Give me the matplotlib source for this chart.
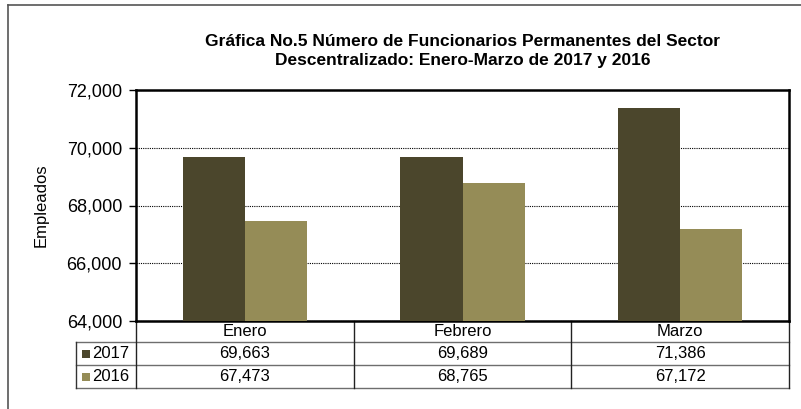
import matplotlib
matplotlib.use('Agg')
import matplotlib.pyplot as plt
from matplotlib.lines import Line2D
from matplotlib.patches import Rectangle
import matplotlib.transforms as mtransforms

plt.rcParams['font.family'] = ['Liberation Sans', 'DejaVu Sans']

# Data
months = ['Enero', 'Febrero', 'Marzo']
series_names = ['2017', '2016']
values_2017 = [69663, 69689, 71386]
values_2016 = [67473, 68765, 67172]
colors = ['#4b462c', '#958c57']
y_ticks = [64000, 66000, 68000, 70000, 72000]

fig = plt.figure(figsize=(8.01, 4.09), dpi=100)
ax = fig.add_axes([136 / 801, 1 - 321 / 409, 653 / 801, 231 / 409])

x = list(range(len(months)))
w = 0.285
ax.bar([i - w / 2 for i in x], values_2017, width=w, color=colors[0], zorder=3)
ax.bar([i + w / 2 for i in x], values_2016, width=w, color=colors[1], zorder=3)

ax.set_xlim(-0.5, len(months) - 0.5)
ax.set_ylim(y_ticks[0], y_ticks[-1])
ax.set_yticks(y_ticks)
ax.set_yticklabels([f'{v:,}' for v in y_ticks], fontsize=13)
ax.tick_params(axis='y', length=5, width=1, pad=5, direction='out')
ax.set_xticks([])
ax.yaxis.grid(True, linestyle=(0, (1, 1)), color='black', linewidth=0.8)
ax.set_axisbelow(True)
for s in ax.spines.values():
    s.set_linewidth(1.8)
    s.set_color('black')

ax.set_ylabel('Empleados', fontsize=12, labelpad=13)

ax.set_title('Gráfica No.5 Número de Funcionarios Permanentes del Sector\n'
             'Descentralizado: Enero-Marzo de 2017 y 2016',
             fontsize=12.5, fontweight='bold', pad=18, linespacing=1.3)

# Data table under the plot (x in data units, y in axes fraction)
trans = mtransforms.blended_transform_factory(ax.transData, ax.transAxes)
ph = 231.0
r0 = 0.0
r1 = -21 / ph
r2 = -44 / ph
r3 = -67 / ph
xl = -0.5 - 60 / (653 / 3)
xr = len(months) - 0.5
line_kw = dict(transform=trans, clip_on=False, linewidth=1.0)

for yy in [r1, r2, r3]:
    ax.add_line(Line2D([xl, xr], [yy, yy], color='#6e6e6e', **line_kw))
ax.add_line(Line2D([xl, xl], [r1, r3], color='#333333', **line_kw))
for i in range(len(months) + 1):
    xv = i - 0.5
    ax.add_line(Line2D([xv, xv], [r0, r3], color='#222222', **line_kw))

fs_tab = 12
for i, m in enumerate(months):
    ax.text(i, (r0 + r1) / 2, m, transform=trans, ha='center', va='center', fontsize=fs_tab)
    ax.text(i, (r1 + r2) / 2, f'{values_2017[i]:,}', transform=trans,
            ha='center', va='center', fontsize=fs_tab)
    ax.text(i, (r2 + r3) / 2, f'{values_2016[i]:,}', transform=trans,
            ha='center', va='center', fontsize=fs_tab)

px = 1 / (653 / 3)
for k, (name, c) in enumerate(zip(series_names, colors)):
    yc = (r1 + r2) / 2 if k == 0 else (r2 + r3) / 2
    ax.add_patch(Rectangle((xl + 6 * px, yc - 4 / ph), 8 * px, 8 / ph, transform=trans,
                           clip_on=False, facecolor=c, edgecolor='none'))
    ax.text(xl + 16 * px, yc, name, transform=trans, ha='left', va='center', fontsize=fs_tab)

# outer chart-area frame (top and left visible)
fig.add_artist(Line2D([8 / 801, 1], [1 - 5 / 409, 1 - 5 / 409], color='#555555', linewidth=1.2))
fig.add_artist(Line2D([8 / 801, 8 / 801], [0, 1 - 5 / 409], color='#555555', linewidth=1.2))

fig.savefig('out.png', dpi=100)
